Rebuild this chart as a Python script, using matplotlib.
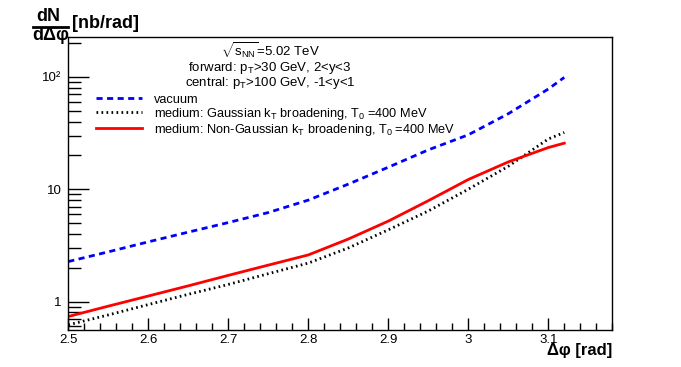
import numpy as np
import matplotlib
matplotlib.use('Agg')
import matplotlib.pyplot as plt
from matplotlib.ticker import MultipleLocator, FuncFormatter, FixedLocator, LogLocator, NullFormatter
from matplotlib.lines import Line2D

""" configuración de fuentes """
plt.rcParams['font.family'] = ['Liberation Sans', 'DejaVu Sans']
plt.rcParams['mathtext.fontset'] = 'custom'
plt.rcParams['mathtext.rm'] = 'Liberation Sans'
plt.rcParams['mathtext.it'] = 'Liberation Sans:italic'
plt.rcParams['mathtext.bf'] = 'Liberation Sans:bold'

""" datos leídos de la figura """
dphi = [2.50, 2.55, 2.60, 2.65, 2.70, 2.75, 2.80, 2.85, 2.90, 2.95, 3.00, 3.05, 3.10, 3.12]
vacuum = [2.27, 2.77, 3.40, 4.15, 5.05, 6.2, 8.0, 11.1, 15.7, 22.4, 30.5, 47.0, 78.0, 99.0]
gauss = [0.62, 0.76, 0.94, 1.16, 1.42, 1.77, 2.2, 3.0, 4.35, 6.4, 10.0, 16.0, 28.0, 32.0]
nongauss = [0.736, 0.91, 1.12, 1.38, 1.71, 2.11, 2.6, 3.6, 5.2, 7.9, 12.2, 17.5, 23.5, 25.7]

xticks = [2.5, 2.6, 2.7, 2.8, 2.9, 3.0, 3.1]
yticks = [1, 10, 100]
yticklabels = ['1', '10', '10²']

""" graficar """
fig = plt.figure(figsize=(6.81, 3.67), dpi=100)
ax = fig.add_axes([0.1003, 0.1008, 0.7988, 0.7992])

ax.plot(dphi, vacuum, color='#0000ff', linestyle=(0, (2.2, 1.6)), linewidth=2,
        label='vacuum')
ax.plot(dphi, gauss, color='black', linestyle=(0, (0.6, 1.2)), linewidth=2,
        label=r'medium: Gaussian k$_{\rm T}$ broadening, T$_{\rm 0}$ =400 MeV')
ax.plot(dphi, nongauss, color='#ff0000', linestyle='-', linewidth=2,
        label=r'medium: Non-Gaussian k$_{\rm T}$ broadening, T$_{\rm 0}$ =400 MeV')

ax.set_yscale('log')
ax.set_xlim(2.5, 3.18)
ax.set_ylim(0.558, 228)

ax.xaxis.set_major_locator(FixedLocator(xticks))
ax.xaxis.set_minor_locator(MultipleLocator(0.02))
ax.xaxis.set_major_formatter(FuncFormatter(lambda v, p: f'{v:g}'))
ax.yaxis.set_major_locator(FixedLocator(yticks))
ax.yaxis.set_major_formatter(FuncFormatter(lambda v, p: yticklabels[yticks.index(round(v))] if round(v) in yticks else ''))
ax.yaxis.set_minor_locator(LogLocator(base=10, subs=np.arange(2, 10)))
ax.yaxis.set_minor_formatter(NullFormatter())

ax.tick_params(which='both', direction='in', top=False, right=False, colors='black', labelsize=9.5)
ax.tick_params(axis='x', which='major', length=9, width=1, pad=3)
ax.tick_params(axis='x', which='minor', length=5, width=1)
ax.tick_params(axis='y', which='major', length=15, width=1, pad=5)
ax.tick_params(axis='y', which='minor', length=9, width=1)
for s in ax.spines.values():
    s.set_linewidth(1)

# textos de la leyenda
ax.text(0.371, 0.950, r'$\sqrt{\mathrm{s}_{\rm NN}}$=5.02 TeV', transform=ax.transAxes,
        ha='center', va='center', fontsize=9.5)
ax.text(0.371, 0.893, r'forward: p$_{\rm T}$>30 GeV, 2<y<3', transform=ax.transAxes,
        ha='center', va='center', fontsize=9.5)
ax.text(0.371, 0.843, r'central: p$_{\rm T}$>100 GeV, -1<y<1', transform=ax.transAxes,
        ha='center', va='center', fontsize=9.5)
ax.legend(loc='upper left', bbox_to_anchor=(0.047, 0.815), frameon=False, fontsize=9.2,
          handlelength=3.6, handletextpad=0.9, labelspacing=0.0, borderpad=0.2,
          borderaxespad=0)

# títulos de los ejes
fig.text(48 / 681, 1 - 16.5 / 367, 'dN', ha='center', va='center', fontsize=13, fontweight='bold')
fig.text(51 / 681, 1 - 35 / 367, 'dΔφ', ha='center', va='center', fontsize=13, fontweight='bold')
fig.add_artist(Line2D([33 / 681, 68 / 681], [1 - 26.5 / 367, 1 - 26.5 / 367],
                      color='black', linewidth=2, transform=fig.transFigure))
fig.text(72 / 681, 1 - 23.5 / 367, '[nb/rad]', ha='left', va='center', fontsize=13, fontweight='bold')
fig.text(612 / 681, 1 - 351 / 367, 'Δφ [rad]', ha='right', va='center', fontsize=12, fontweight='bold')

plt.savefig('out.png', dpi=100)
